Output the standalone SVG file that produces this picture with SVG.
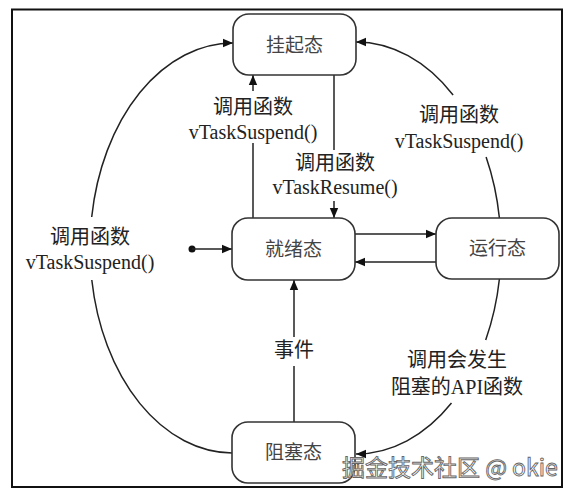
<svg xmlns="http://www.w3.org/2000/svg" width="581" height="496" viewBox="0 0 581 496">
<defs>
<style>
.box{fill:#fff;stroke:#333;stroke-width:1.6}
.st{font-family:"Liberation Serif","Noto Sans CJK SC",serif;font-size:19px;fill:#444;text-anchor:middle}
.lb{font-family:"Liberation Serif","Noto Sans CJK SC",serif;font-size:20px;fill:#222;text-anchor:middle}
.ln{fill:none;stroke:#222;stroke-width:1.5}
.wm{font-family:"Noto Sans CJK SC","Liberation Sans",sans-serif;font-size:23px;fill:#fff;stroke:#666;stroke-width:0.9}
</style>
<marker id="ah" viewBox="0 0 10 10" refX="10" refY="5" markerWidth="10" markerHeight="10" markerUnits="userSpaceOnUse" orient="auto">
<path d="M0,0.8 L10,5 L0,9.2 Z" fill="#111"/>
</marker>
</defs>
<rect x="12" y="9.5" width="550" height="477.5" fill="#fff" stroke="#111" stroke-width="2"/>
<g id="connectors">
<path class="ln" d="M91.7,217 A143,205 0 0 1 233,43" marker-end="url(#ah)"/>
<path class="ln" d="M91.8,280 A143,205 0 0 0 232,453"/>
<path class="ln" d="M499.4,218 A145,206 0 0 0 486.1,157"/>
<path class="ln" d="M453.1,95 A145,206 0 0 0 356,42" marker-end="url(#ah)"/>
<path class="ln" d="M499.4,279 A145,206 0 0 1 485.7,340"/>
<path class="ln" d="M451.5,403 A145,206 0 0 1 356,454" marker-end="url(#ah)"/>
<path class="ln" d="M253,218 V143"/>
<path class="ln" d="M253,91 V75" marker-end="url(#ah)"/>
<path class="ln" d="M334,75 V150"/>
<path class="ln" d="M334,201 V218" marker-end="url(#ah)"/>
<path class="ln" d="M355,234 H436" marker-end="url(#ah)"/>
<path class="ln" d="M436,262 H355" marker-end="url(#ah)"/>
<circle cx="192" cy="249" r="3.5" fill="#111"/>
<path class="ln" d="M192,249 H232" marker-end="url(#ah)"/>
<path class="ln" d="M294,422 V366"/>
<path class="ln" d="M294,337 V280" marker-end="url(#ah)"/>
<text class="lb" x="253" y="114">调用函数</text>
<text class="lb" x="253" y="139">vTaskSuspend()</text>
<text class="lb" x="335" y="170">调用函数</text>
<text class="lb" x="335" y="194">vTaskResume()</text>
<text class="lb" x="90" y="244">调用函数</text>
<text class="lb" x="90" y="269">vTaskSuspend()</text>
<text class="lb" x="459" y="122">调用函数</text>
<text class="lb" x="459" y="148">vTaskSuspend()</text>
<text class="lb" x="457" y="367">调用会发生</text>
<text class="lb" x="457" y="394">阻塞的API函数</text>
<text class="lb" x="294" y="357">事件</text>
</g>
<g id="suspended">
<rect class="box" x="233" y="14" width="123" height="61" rx="16"/>
<text class="st" x="294.5" y="52">挂起态</text>
</g>
<g id="ready">
<rect class="box" x="232" y="218" width="123" height="62" rx="16"/>
<text class="st" x="293.5" y="256">就绪态</text>
</g>
<g id="running">
<rect class="box" x="436" y="218" width="123" height="61" rx="16"/>
<text class="st" x="497.5" y="255">运行态</text>
</g>
<g id="blocked">
<rect class="box" x="232" y="422" width="123" height="61" rx="16"/>
<text class="st" x="293.5" y="459">阻塞态</text>
</g>
<text class="wm" x="342" y="476">掘金技术社区 @ okie</text>
</svg>
